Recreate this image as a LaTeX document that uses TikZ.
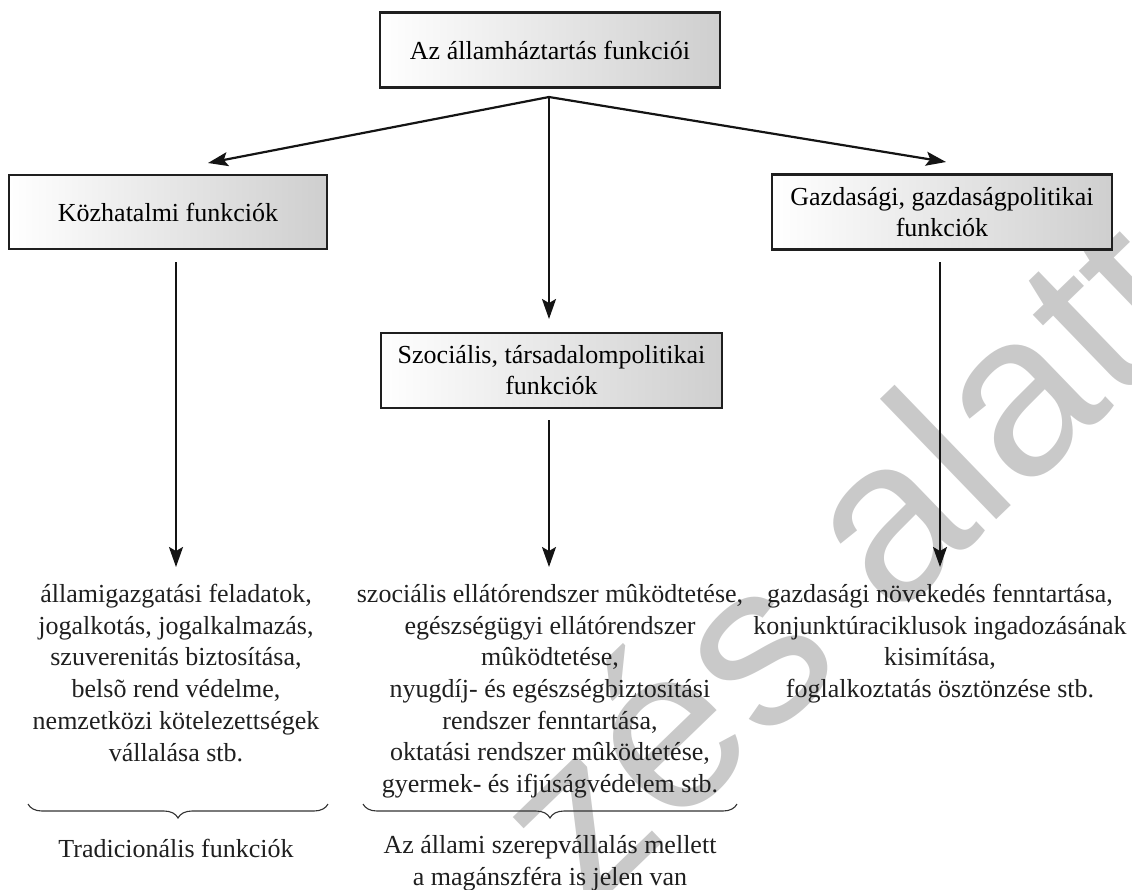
\documentclass[tikz,border=0pt]{standalone}
\usepackage{fontspec}
\setmainfont{Liberation Serif}
\newfontfamily\wmfont{Liberation Sans}
\usetikzlibrary{arrows.meta,decorations.pathreplacing}
\begin{document}
\begin{tikzpicture}[x=1pt,y=-1pt,
  fbox/.style={draw=black!88, line width=2.2pt, left color=white, right color=gray!38,
    align=center, inner sep=0pt, font=\fontsize{26}{31}\selectfont},
  conn/.style={line width=2.2pt, draw=black!92, -{Stealth[length=20pt,width=14pt,inset=4pt]}},
  txt/.style={align=center, inner sep=0pt, text=black!88, font=\fontsize{26}{31.7}\selectfont},
  brc/.style={decorate, decoration={brace, amplitude=14pt}, line width=1.1pt, draw=black!80},
  wmark/.style={text=gray!42, inner sep=0pt, font=\wmfont\fontsize{231}{231}\selectfont}]
\useasboundingbox (0,0) rectangle (1132,889);
% watermark
\node[wmark, rotate=44] (wm) at (840,555) {zés alatt};
% boxes
\node[fbox, minimum width=340pt, minimum height=75pt] (top) at (550,50) {Az államháztartás funkciói};
\node[fbox, minimum width=318pt, minimum height=74pt] (left) at (168,212) {Közhatalmi funkciók};
\node[fbox, minimum width=340pt, minimum height=75pt] (right) at (942,212) {Gazdasági, gazdaságpolitikai\\funkciók};
\node[fbox, minimum width=341pt, minimum height=75pt] (mid) at (551.5,370.5) {Szociális, társadalompolitikai\\funkciók};
% connector points
\coordinate (apex) at (549,97);
\coordinate (lt) at (208,163);
\coordinate (rt) at (946,162);
\coordinate (mt) at (549,319);
\coordinate (ls) at (176,262);
\coordinate (rs) at (940,262);
\coordinate (ms) at (549,420);
% text blocks
\node[txt, anchor=north] (ltext) at (176,584) {államigazgatási feladatok,\\jogalkotás, jogalkalmazás,\\szuverenitás biztosítása,\\belsõ rend védelme,\\nemzetközi kötelezettségek\\vállalása stb.};
\node[txt, anchor=north] (mtext) at (550,584) {szociális ellátórendszer mûködtetése,\\egészségügyi ellátórendszer\\mûködtetése,\\nyugdíj- és egészségbiztosítási\\rendszer fenntartása,\\oktatási rendszer mûködtetése,\\gyermek- és ifjúságvédelem stb.};
\node[txt, anchor=north] (rtext) at (940,584) {gazdasági növekedés fenntartása,\\konjunktúraciklusok ingadozásának\\kisimítása,\\foglalkoztatás ösztönzése stb.};
\coordinate (la) at (176,567);
\coordinate (ma) at (549,567);
\coordinate (ra) at (940,567);
% arrows
\draw[conn] (apex) -- (lt);
\draw[conn] (apex) -- (rt);
\draw[conn] (apex) -- (mt);
\draw[conn] (ls) -- (la);
\draw[conn] (ms) -- (ma);
\draw[conn] (rs) -- (ra);
% braces
\coordinate (lb1) at (328,804);
\coordinate (lb2) at (28,804);
\coordinate (mb1) at (737,804);
\coordinate (mb2) at (363,804);
\draw[brc] (lb1) -- (lb2);
\draw[brc] (mb1) -- (mb2);
\node[txt] (ltrad) at (176,848) {Tradicionális funkciók};
\node[txt] (mpriv) at (550,863) {Az állami szerepvállalás mellett\\a magánszféra is jelen van};
\end{tikzpicture}
\end{document}
